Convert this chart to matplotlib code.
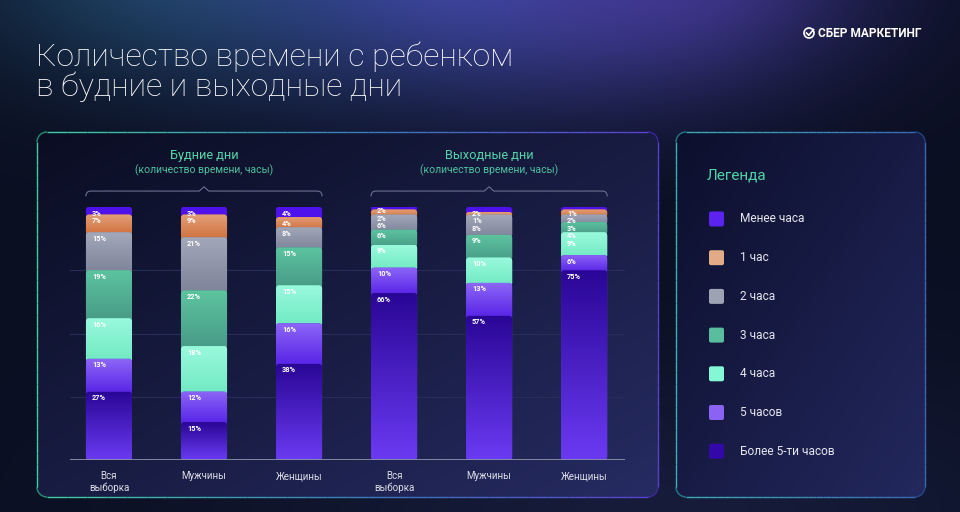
import numpy as np
import matplotlib.pyplot as plt
from matplotlib.patches import FancyBboxPatch, Polygon, Circle, PathPatch
from matplotlib.collections import LineCollection
from matplotlib.colors import to_rgb
from matplotlib.path import Path

# ---- data ----
group_names = ["Будние дни", "Выходные дни"]
group_note = "(количество времени, часы)"
bar_labels = ["Вся\nвыборка", "Мужчины", "Женщины", "Вся\nвыборка", "Мужчины", "Женщины"]

# stacked bottom -> top
categories = ["Более 5-ти часов", "5 часов", "4 часа", "3 часа", "2 часа", "1 час", "Менее часа"]
more5 = [27, 15, 38, 66, 57, 75]
h5 = [13, 12, 16, 10, 13, 6]
h4 = [16, 18, 15, 9, 10, 9]
h3 = [19, 22, 15, 6, 9, 4]
h2 = [15, 21, 8, 6, 8, 3]
h1 = [7, 9, 4, 2, 1, 2]
less1 = [3, 3, 4, 2, 2, 1]
series = [more5, h5, h4, h3, h2, h1, less1]

# gradient (top, bottom) per category and flat legend colour
grad_colors = [("#2a0696", "#6a3af2"), ("#8c66f7", "#5520e6"), ("#9af9dc", "#6fe9c2"),
               ("#5cc49f", "#489a86"), ("#a3a8ba", "#7d8399"), ("#e3a07a", "#cf6e3a"),
               ("#4e12ea", "#4e12ea")]
legend_colors = ["#3408a8", "#8c62f4", "#84f7d4", "#58be9e", "#9ea3b3", "#e3aa88", "#5b22f0"]

plt.rcParams["font.family"] = ["Roboto", "DejaVu Sans"]

W, H = 960, 512
fig = plt.figure(figsize=(9.6, 5.12), dpi=100)

# ---- background ----
bg = fig.add_axes([0, 0, 1, 1])
bg.set_xlim(0, W)
bg.set_ylim(H, 0)
bg.axis("off")

yy, xx = np.mgrid[0:H, 0:W]
img = np.ones((H, W, 3)) * np.array(to_rgb("#0b0f22"))
blobs = [((660, 520), 420, 160, "#171d3c", 0.9),
         ((190, -30), 220, 110, "#1d4863", 0.9),
         ((480, -40), 260, 130, "#3c4aa3", 1.0),
         ((660, -30), 190, 110, "#47399a", 0.8)]
for (cx, cy), sx, sy, c, w in blobs:
    a = w * np.exp(-(((xx - cx) / sx) ** 2 + ((yy - cy) / sy) ** 2))
    img = img * (1 - a[..., None]) + np.array(to_rgb(c)) * a[..., None]
bg.imshow(img, extent=(0, W, H, 0), aspect="auto", zorder=0)
bg.set_xlim(0, W)
bg.set_ylim(H, 0)


def rrect(x0, y0, w, h, r, n=14):
    pts = []
    for cx, cy, a0 in [(x0 + r, y0 + r, 180), (x0 + w - r, y0 + r, 270),
                       (x0 + w - r, y0 + h - r, 0), (x0 + r, y0 + h - r, 90)]:
        t = np.radians(np.linspace(a0, a0 + 90, n))
        pts += list(zip(cx + r * np.cos(t), cy + r * np.sin(t)))
    pts.append(pts[0])
    dense = []
    for p, q in zip(pts[:-1], pts[1:]):
        for s in np.linspace(0, 1, 30, endpoint=False):
            dense.append((p[0] + (q[0] - p[0]) * s, p[1] + (q[1] - p[1]) * s))
    dense.append(pts[0])
    return np.array(dense)


def panel(x0, y0, w, h, fill_a, fill_b, edge_cols):
    pts = rrect(x0, y0, w, h, 10)
    poly = Polygon(pts, closed=True, facecolor=fill_a, edgecolor="none", zorder=1)
    bg.add_patch(poly)
    t = 0.5 * (xx - x0) / w + 0.5 * (yy - y0) / h
    t = np.clip(t, 0, 1)[..., None]
    fimg = np.array(to_rgb(fill_a)) * (1 - t) + np.array(to_rgb(fill_b)) * t
    im = bg.imshow(fimg, extent=(0, W, H, 0), aspect="auto", zorder=1.1)
    im.set_clip_path(poly)
    segs = np.stack([pts[:-1], pts[1:]], axis=1)
    tm = (segs[:, :, 0].mean(axis=1) - x0) / w
    stops = [np.array(to_rgb(c)) for c in edge_cols]
    cols = []
    for v in tm:
        p = v * (len(stops) - 1)
        i = min(int(p), len(stops) - 2)
        f = p - i
        cols.append(stops[i] * (1 - f) + stops[i + 1] * f)
    bg.add_collection(LineCollection(segs, colors=cols, linewidths=1.0, zorder=2))


panel(37, 132, 621, 365, "#0a0d22", "#262b62", ["#40d0a0", "#3a7fb8", "#5a40d0"])
panel(676, 132, 249, 365, "#0c0f2c", "#23285e", ["#3fb0b8", "#3a68b4"])
bg.set_xlim(0, W)
bg.set_ylim(H, 0)

# ---- title & logo ----
bg.text(36, 66, "Количество времени с ребенком", fontsize=23, color="white",
        fontweight="light", va="baseline", ha="left", zorder=5)
bg.text(36, 96, "в будние и выходные дни", fontsize=23, color="white",
        fontweight="light", va="baseline", ha="left", zorder=5)
bg.add_patch(Circle((809, 33), 5, fill=False, edgecolor="white", lw=1.2, zorder=5))
bg.plot([806.5, 808.8, 813.5], [33, 35.3, 29.5], color="white", lw=1.2, zorder=6)
bg.text(818, 33.5, "СБЕР МАРКЕТИНГ", fontsize=8.6, fontweight="bold", color="white",
        va="center", ha="left", zorder=5)

# ---- legend ----
bg.text(707, 175, "Легенда", fontsize=11, color="#4fd3a5", va="center", ha="left", zorder=5)
for k, name in enumerate(categories[::-1]):
    cy = 219 + k * 38.7
    bg.add_patch(FancyBboxPatch((709, cy - 7.5), 15, 15,
                                boxstyle="round,pad=0,rounding_size=2",
                                facecolor=legend_colors[::-1][k], edgecolor="none", zorder=5))
    bg.text(740, cy, name, fontsize=8.6, color="#e6e6ee", va="center", ha="left", zorder=5)

# ---- chart ----
ax = fig.add_axes([70 / W, 52 / H, 555 / W, 253 / H])
ax.patch.set_alpha(0)
x = np.arange(len(bar_labels))
width = 0.485
xmin, xmax = -0.41, 5.43
ax.set_xlim(xmin, xmax)
ax.set_ylim(0, 100)

px_x = 555 / (xmax - xmin)
px_y = 253 / 100
rx = 3 / px_x
aspect = (3 / px_y) / rx
ext = 3 / px_y

bottom = np.zeros(len(x))
label_spots = [[] for _ in x]
for ci, vals in enumerate(series):
    z = 20 - ci
    bars = ax.bar(x, vals, width=width, bottom=bottom, color=grad_colors[ci][1], zorder=z)
    top_c, bot_c = grad_colors[ci]
    grad = np.linspace(np.array(to_rgb(bot_c)), np.array(to_rgb(top_c)), 64)[:, None, :]
    for j, (rect, v) in enumerate(zip(bars, vals)):
        rect.set_visible(False)
        x0, y0, w, h = rect.get_x(), rect.get_y(), rect.get_width(), rect.get_height()
        if y0 > 0:
            y0, h = y0 - ext, h + ext
        r = min(rx, h / (2 * aspect), w / 2)
        patch = FancyBboxPatch((x0, y0), w, h, boxstyle=f"round,pad=0,rounding_size={r}",
                               mutation_aspect=aspect, facecolor=bot_c, edgecolor="none",
                               zorder=z)
        ax.add_patch(patch)
        im = ax.imshow(grad, extent=(x0, x0 + w, y0, y0 + h), origin="lower",
                       aspect="auto", interpolation="bilinear", zorder=z + 0.1)
        im.set_clip_path(patch)
        label_spots[j].append((x0, rect.get_y() + rect.get_height(), v))
    bottom += np.array(vals)

# labels: top-left inside each segment, pushed down when small segments crowd
off = 2.5 / px_y
lh = 7.6 / px_y
for spots in label_spots:
    prev = None
    for x0, top, v in sorted(spots, key=lambda s: -s[1]):
        yl = top - off
        if prev is not None:
            yl = min(yl, prev - lh)
        prev = yl
        ax.annotate(f"{v}%", xy=(x0, yl), xytext=(4.3, 0), textcoords="offset points",
                    ha="left", va="top", fontsize=5.3, fontweight="bold", color="white",
                    zorder=50)

ax.set_xlim(xmin, xmax)
ax.set_ylim(0, 100)
ax.set_aspect("auto")

ax.set_yticks([25, 50, 75])
ax.set_yticklabels([])
ax.grid(axis="y", color="#272d58", lw=0.8)
ax.set_axisbelow(True)
ax.axhline(0, color="#8c90a8", lw=1.3, zorder=60)
ax.set_xticks(x, bar_labels)
ax.tick_params(axis="both", length=0)
ax.tick_params(axis="x", pad=8, labelsize=7, labelcolor="#dcdde6")
for s in ax.spines.values():
    s.set_visible(False)

# group headers with braces
for g, name in enumerate(group_names):
    xs = x[3 * g:3 * g + 3]
    left, right, mid = xs[0] - width / 2, xs[-1] + width / 2, xs.mean()
    yb, ye, yp, d = 106.3, 104.2, 108.0, 0.05
    verts = [(left, ye), (left, yb), (left + d, yb), (mid - d, yb), (mid, yp),
             (mid + d, yb), (right - d, yb), (right, yb), (right, ye)]
    codes = [Path.MOVETO, Path.CURVE3, Path.CURVE3, Path.LINETO, Path.LINETO,
             Path.LINETO, Path.LINETO, Path.CURVE3, Path.CURVE3]
    ax.add_patch(PathPatch(Path(verts, codes), fill=False, edgecolor="#6a7090",
                           lw=0.8, clip_on=False))
    ax.text(mid, 120.3, name, ha="center", va="center", fontsize=9.2, color="#55d6aa")
    ax.text(mid, 114.6, group_note, ha="center", va="center", fontsize=7.5, color="#4fc29f")

fig.savefig("out.png", dpi=100)
